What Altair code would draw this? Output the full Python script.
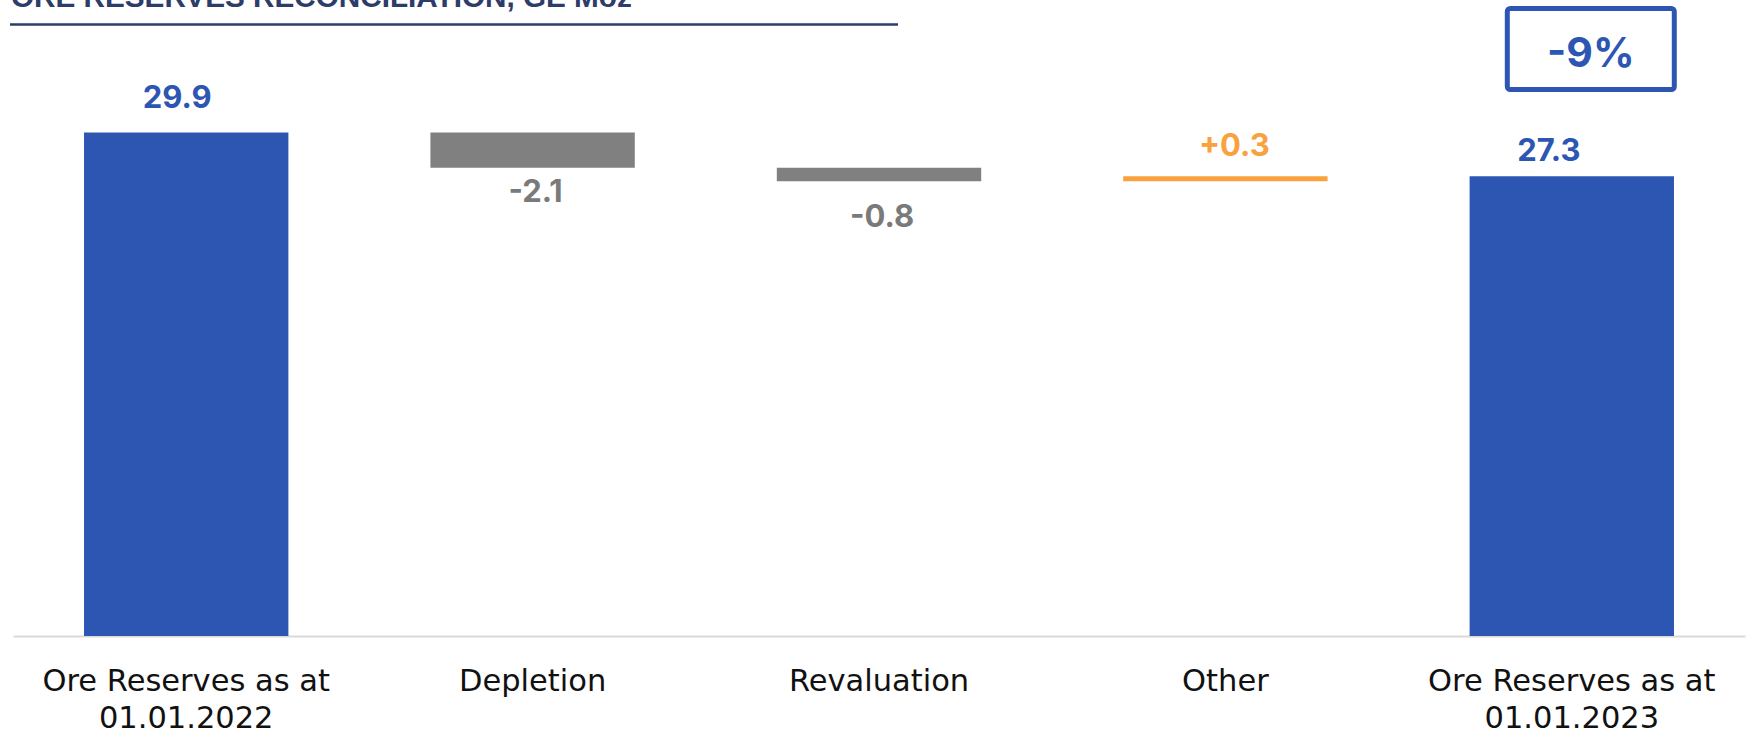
import altair as alt
import pandas as pd

# ---- data ----
categories = ["Ore Reserves as at\n01.01.2022", "Depletion", "Revaluation", "Other",
              "Ore Reserves as at\n01.01.2023"]
values = [29.9, -2.1, -0.8, 0.3, 27.3]
kinds = ["total", "decrease", "decrease", "increase", "total"]
labels = ["29.9", "-2.1", "-0.8", "+0.3", "27.3"]
change_label = "-9%"
title_text = "ORE RESERVES RECONCILIATION, GE Moz"

# ---- waterfall computation ----
rows = []
run = 0.0
for c, v, k, l in zip(categories, values, kinds, labels):
    if k == "total":
        s, e = 0.0, v
    else:
        s, e = run, run + v
    run = e
    rows.append({"cat": c, "start": s, "end": e, "top": max(s, e), "bottom": min(s, e),
                 "kind": k, "label": l})
df = pd.DataFrame(rows)

BLUE = "#2D56B3"
GRAY = "#808080"
GRAY_TXT = "#7A7A7A"
ORANGE = "#F9A13C"
NAVY = "#2D3C68"

PX_PER_UNIT = 16.84
H = 636
W = 1732

xenc = alt.X(
    "cat:N", sort=categories,
    scale=alt.Scale(paddingInner=0.41, paddingOuter=0.205),
    axis=alt.Axis(title=None, labelAngle=0, ticks=False, grid=False,
                  domainColor="#D9D9D9", domainWidth=2,
                  labelFont="DejaVu Sans", labelFontSize=30.5, labelColor="#111111",
                  labelLineHeight=37, labelPadding=54, labelBaseline="alphabetic",
                  labelLimit=600, labelOverlap=False,
                  labelExpr="split(datum.label, '\\n')"),
)
yscale = alt.Scale(domain=[0, H / PX_PER_UNIT], nice=False, zero=True)

base = alt.Chart(df)

bars = base.mark_bar().encode(
    x=xenc,
    y=alt.Y("start:Q", scale=yscale, axis=None),
    y2="end:Q",
    color=alt.Color("kind:N", scale=alt.Scale(domain=["total", "decrease", "increase"],
                                              range=[BLUE, GRAY, ORANGE]), legend=None),
)


def label_layer(i, field, dx, dy, color):
    return base.transform_filter(alt.datum.cat == categories[i]).mark_text(
        font="Inter", fontSize=31, fontWeight="bold", color=color,
        baseline="alphabetic", align="center", dx=dx, dy=dy,
    ).encode(
        x=alt.X("cat:N", sort=categories),
        y=alt.Y(f"{field}:Q", scale=yscale, axis=None),
        text="label:N",
    )


lbls = [
    label_layer(0, "top", -9, -24, BLUE),
    label_layer(1, "bottom", 3, 34, GRAY_TXT),
    label_layer(2, "bottom", 3, 46, GRAY_TXT),
    label_layer(3, "top", 9, -20, ORANGE),
    label_layer(4, "top", -23, -15, BLUE),
]

box = base.transform_filter(alt.datum.cat == categories[-1]).mark_bar(
    width=167, xOffset=19, fill="white", stroke=BLUE, strokeWidth=5, cornerRadius=3,
).encode(
    x=alt.X("cat:N", sort=categories),
    y=alt.value(8.5), y2=alt.value(89.5),
)
box_text = base.transform_filter(alt.datum.cat == categories[-1]).mark_text(
    font="Inter", fontSize=41, fontWeight="bold", color=BLUE,
    baseline="alphabetic", align="center", dx=19,
).encode(
    x=alt.X("cat:N", sort=categories),
    y=alt.value(66.5),
    text=alt.value(change_label),
)

title_df = pd.DataFrame({"t": [title_text]})
title = alt.Chart(title_df).mark_text(
    font="Liberation Sans", fontSize=29.7, fontWeight="bold", color=NAVY,
    align="left", baseline="alphabetic",
).encode(x=alt.value(-2), y=alt.value(6.5), text="t:N")
underline = alt.Chart(title_df).mark_rule(color=NAVY, strokeWidth=2.5).encode(
    x=alt.value(-3), x2=alt.value(885), y=alt.value(24.5)
)

chart = alt.layer(bars, *lbls, box, box_text, title, underline).properties(
    width=W, height=H,
    autosize=alt.AutoSizeParams(type="none"),
    padding={"left": 13, "top": 0, "right": 1, "bottom": 95},
    background="white",
).configure_view(stroke=None)

chart.save("out.html", embed_options={"renderer": "svg", "actions": False})
